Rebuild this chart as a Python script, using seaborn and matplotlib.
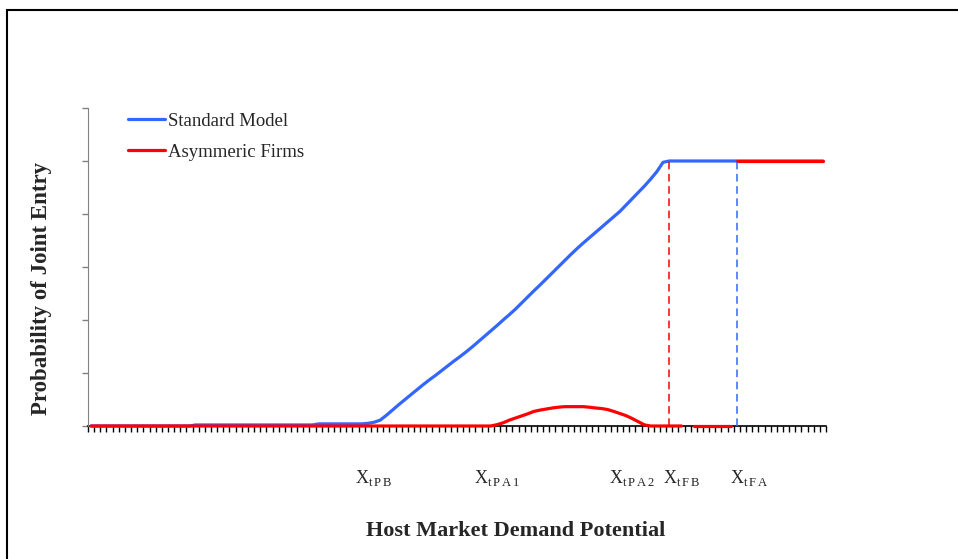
import numpy as np
import pandas as pd
import matplotlib
matplotlib.use('Agg')
import matplotlib.pyplot as plt
from matplotlib.lines import Line2D
from matplotlib.patches import Rectangle
import seaborn as sns

# 120 categories of host market demand potential
n_cat = 120

# Standard Model probability of joint entry (one value per category)
standard = ([0.0] * 17 + [0.004] * 20 + [0.008] * 7 +
            [0.008, 0.010, 0.014, 0.022, 0.040, 0.060, 0.080, 0.099, 0.118, 0.137,
             0.156, 0.174, 0.191, 0.209, 0.227, 0.245, 0.262, 0.280, 0.299, 0.319,
             0.339, 0.359, 0.379, 0.400, 0.420, 0.441, 0.464, 0.487, 0.510, 0.532,
             0.555, 0.578, 0.601, 0.624, 0.647, 0.669, 0.690, 0.710, 0.730, 0.750,
             0.770, 0.790, 0.810, 0.834, 0.858, 0.882, 0.906, 0.932, 0.960, 0.995] +
            [1.0] * 26)

# Asymmetric Firms probability of joint entry (nan = missing point)
asym = ([0.0] * 66 +
        [0.005, 0.012, 0.022, 0.03, 0.038, 0.046, 0.055, 0.060, 0.064, 0.068,
         0.071, 0.073, 0.073, 0.073, 0.073, 0.071, 0.068, 0.066, 0.062, 0.055,
         0.047, 0.039, 0.028, 0.016, 0.004] +
        [0.0] * 6 + [np.nan] + [0.0] * 7 +
        [1.0] * 15)
asym_breaks = [97, 105]   # the asymmetric line is not joined across these

# category labels on the x axis
cat_pos = [46, 66, 88, 96, 107]
cat_sub = ['t\\,P\\,B', 't\\,P\\,A\\,1', 't\\,P\\,A\\,2', 't\\,F\\,B', 't\\,F\\,A']

# thresholds drawn as dashed drop lines
thr_pos = [94, 105]
thr_col = ['#FF0000', '#3366FF']

blue = '#3366FF'
red = '#FF0000'

x = np.arange(n_cat) + 0.5
df_std = pd.DataFrame({'x': x, 'p': standard})
df_asym = pd.DataFrame({'x': x, 'p': asym,
                        'seg': np.searchsorted(asym_breaks, np.arange(n_cat), side='right')})
df_asym = df_asym.dropna()

sns.set_style('ticks')
plt.rcParams['font.family'] = ['Liberation Serif', 'DejaVu Serif']
plt.rcParams['mathtext.fontset'] = 'custom'
plt.rcParams['mathtext.rm'] = 'Liberation Serif'

fig = plt.figure(figsize=(9.58, 5.59), dpi=100)
ax = fig.add_axes([88 / 958, 1 - 426 / 559, 738 / 958, 318 / 559])

sns.lineplot(data=df_std, x='x', y='p', color=blue, lw=2.3, ax=ax, legend=False,
             clip_on=False, zorder=3)
for seg, part in df_asym.groupby('seg'):
    sns.lineplot(data=part, x='x', y='p', color=red, lw=2.3, ax=ax, legend=False,
                 clip_on=False, zorder=3)

for pos, col in zip(thr_pos, thr_col):
    ax.vlines(pos + 0.5, 0, 1.0, colors=col, linestyles=(0, (5, 3)), lw=1.1, zorder=3)

ax.set_xlim(0, n_cat)
ax.set_ylim(0, 1.2)
ax.set_yticks(np.arange(0, 1.21, 0.2))
ax.set_yticklabels([])
ax.set_xticks(np.array(cat_pos) + 0.5)
ax.set_xticklabels([r'$\mathrm{X}_{\mathrm{%s}}$' % s for s in cat_sub], fontsize=13)
ax.set_xticks(np.arange(0, n_cat + 1), minor=True)
ax.tick_params(axis='x', which='major', length=0, pad=30)
ax.tick_params(axis='x', which='minor', length=4, width=1, color='black', direction='out')
ax.tick_params(axis='y', length=4, width=1, color='#808080', direction='out')
ax.set_xlabel('')
ax.set_ylabel('')
sns.despine(ax=ax)
ax.spines['left'].set_color('#808080')
ax.spines['bottom'].set_color('black')
ax.spines['bottom'].set_linewidth(1.2)
ax.spines['bottom'].set_zorder(2)

handles = [Line2D([], [], color=blue, lw=2.3), Line2D([], [], color=red, lw=2.3)]
ax.legend(handles, ['Standard Model', 'Asymmeric Firms'], loc='upper left',
          bbox_to_anchor=(0.054, 0.985), frameon=False, fontsize=13.5,
          handlelength=2.0, handletextpad=0.15, labelspacing=0.72,
          borderpad=0, borderaxespad=0)

fig.text(516 / 958, 1 - 531 / 559, 'Host Market Demand Potential', ha='center',
         va='center', fontsize=16, fontweight='bold')
fig.text(42 / 958, 1 - 288 / 559, 'Probability of Joint Entry', ha='center',
         va='center', rotation=90, fontsize=16.5, fontweight='bold')

fig.patches.append(Rectangle((7 / 958, -0.1), 2, 1 - 10 / 559 + 0.1,
                             transform=fig.transFigure, fill=False,
                             edgecolor='black', lw=1.5))

fig.savefig('out.png', dpi=100)
